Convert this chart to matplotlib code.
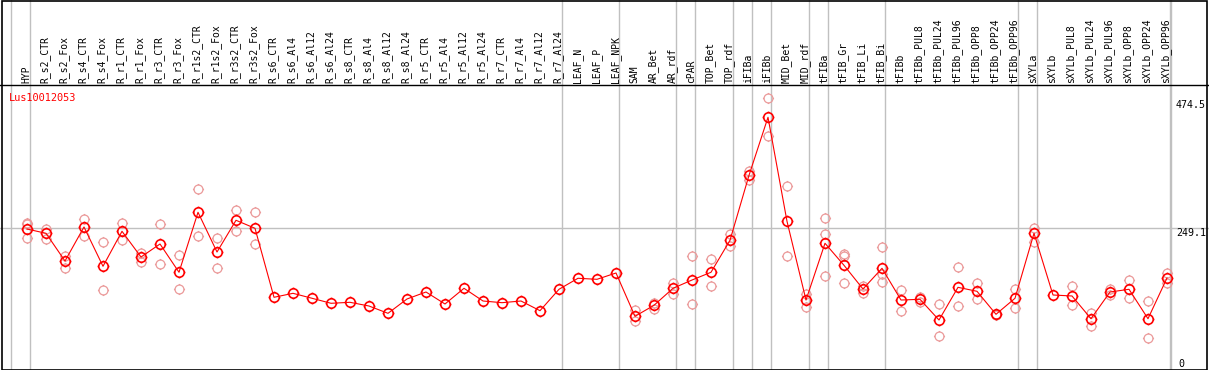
import numpy as np
import matplotlib
matplotlib.use("Agg")
import matplotlib.pyplot as plt
from matplotlib.path import Path
from matplotlib.patches import Rectangle

# Sample names (x categories)
samples = [
    "HYP", "R_s2_CTR", "R_s2_Fox", "R_s4_CTR", "R_s4_Fox", "R_r1_CTR", "R_r1_Fox",
    "R_r3_CTR", "R_r3_Fox", "R_r1s2_CTR", "R_r1s2_Fox", "R_r3s2_CTR", "R_r3s2_Fox",
    "R_s6_CTR", "R_s6_Al4", "R_s6_Al12", "R_s6_Al24", "R_s8_CTR", "R_s8_Al4",
    "R_s8_Al12", "R_s8_Al24", "R_r5_CTR", "R_r5_Al4", "R_r5_Al12", "R_r5_Al24",
    "R_r7_CTR", "R_r7_Al4", "R_r7_Al12", "R_r7_Al24", "LEAF_N", "LEAF_P", "LEAF_NPK",
    "SAM", "AR_Bet", "AR_rdf", "cPAR", "TOP_Bet", "TOP_rdf", "iFIBa", "iFIBb",
    "MID_Bet", "MID_rdf", "tFIBa", "tFIB_Gr", "tFIB_Li", "tFIB_Bi", "tFIBb",
    "tFIBb_PUL8", "tFIBb_PUL24", "tFIBb_PUL96", "tFIBb_OPP8", "tFIBb_OPP24",
    "tFIBb_OPP96", "sXYLa", "sXYLb", "sXYLb_PUL8", "sXYLb_PUL24", "sXYLb_PUL96",
    "sXYLb_OPP8", "sXYLb_OPP24", "sXYLb_OPP96",
]

# Mean expression per sample
means = [
    247.7, 239.8, 189.0, 251.4, 179.3, 243.5, 196.3, 220.2, 168.3, 278.4, 205.5,
    263.7, 249.0, 122.4, 129.7, 120.6, 111.4, 113.2, 106.4, 93.0, 119.3, 132.1,
    110.1, 138.9, 115.6, 112.5, 115.6, 97.8, 137.1, 157.3, 155.4, 167.0, 87.5,
    107.7, 138.9, 154.1, 168.3, 227.0, 346.2, 452.7, 261.8, 117.4, 221.5, 181.1,
    137.6, 175.6, 117.4, 118.7, 80.7, 140.7, 133.4, 91.2, 120.6, 239.8, 126.6,
    124.8, 83.1, 132.1, 137.1, 83.1, 157.8,
]

# Individual replicates per sample
replicates = [
    [259.3, 256.3, 230.6], [247.7, 228.8], [198.2, 176.7], [266.1, 234.9],
    [223.3, 135.2], [258.2, 227.0], [204.2, 187.7], [256.3, 182.9], [199.5, 137.1],
    [320.6, 234.3], [231.7, 175.6], [282.0, 243.5], [279.5, 219.6],
    [], [], [], [], [], [], [], [], [], [], [], [], [], [], [], [], [], [], [],
    [99.1, 78.3], [111.4, 101.5], [149.2, 129.0], [197.6, 110.1], [192.1, 142.6],
    [238.0, 217.1], [354.7, 337.6], [487.5, 417.8], [326.1, 198.2], [128.4, 105.1],
    [267.9, 238.0, 161.5], [201.8, 198.7, 148.1], [143.7, 129.7],
    [214.1, 164.6, 149.9], [135.2, 96.7], [122.9, 114.3], [110.1, 50.8],
    [177.4, 105.9], [148.6, 118.7], [91.2, 89.4], [137.1, 103.3], [250.1, 223.3],
    [], [142.6, 107.7], [93.0, 70.3], [137.1, 126.6], [153.6, 121.7], [115.0, 47.2],
    [166.4, 148.1],
]

# Group boundaries: separator drawn after these sample indices
group_ends = [-1, 0, 28, 31, 34, 35, 37, 38, 39, 41, 42, 45, 52, 53, 60]

gene = "Lus10012053"
y_ticks = [474.5, 249.1, 0]

W, H, DPI = 1209, 370, 100
PX_X0, PX_DX = 27.0, 19.0      # pixel x of first sample, spacing
PX_Y0, PX_DY = 364.0, 0.545    # pixel y of value 0, pixels per unit


def px_to_x(px):
    return (px - PX_X0) / PX_DX


def px_to_y(py):
    return (PX_Y0 - py) / PX_DY


# Circle marker with four small ticks
circle = Path.unit_circle()
tick_verts = [(0, 1), (0, 1.25), (0, -1), (0, -1.25),
              (1, 0), (1.25, 0), (-1, 0), (-1.25, 0)]
tick_codes = [Path.MOVETO, Path.LINETO] * 4
marker = Path.make_compound_path(circle, Path(tick_verts, tick_codes))

fig = plt.figure(figsize=(W / DPI, H / DPI), dpi=DPI)
ax = fig.add_axes([0, 0, 1, 1])
ax.set_xlim(px_to_x(0), px_to_x(W))
ax.set_ylim(px_to_y(H), px_to_y(0))
ax.axis("off")

grid_col = "#c0c0c0"
mono = "DejaVu Sans Mono"

# Separators and grid
for g in group_ends:
    ax.axvline(g + 3 / PX_DX, color=grid_col, lw=1.0, zorder=1)
ax.axvline(px_to_x(1170.5), color=grid_col, lw=1.0, zorder=1)
ax.axhline(249.1, color=grid_col, lw=1.0, zorder=1)
ax.axhline(px_to_y(85), color="black", lw=1.0, zorder=3)

x = np.arange(len(samples))

# Replicates
for i, reps in enumerate(replicates):
    if reps:
        ax.plot([i] * len(reps), reps, linestyle="none", marker=marker,
                markersize=8, markerfacecolor="none", markeredgecolor="#eb9a9a",
                markeredgewidth=0.9, zorder=2)

# Mean line
ax.plot(x, means, color="red", lw=0.8, zorder=4)
ax.plot(x, means, linestyle="none", marker=marker, markersize=8.5,
        markerfacecolor="none", markeredgecolor="red", markeredgewidth=1.2,
        zorder=5)

# Sample labels in the header
for i, s in enumerate(samples):
    ax.text(i - 0.05, px_to_y(83), s, rotation=90, ha="center", va="bottom",
            fontsize=7.0, family=mono, color="black", zorder=6)

ax.text(px_to_x(9), px_to_y(98), gene, ha="left", va="center",
        fontsize=7.4, family=mono, color="red", zorder=6)

# Right-hand value labels
ax.text(px_to_x(1206), y_ticks[0], "474.5", ha="right", va="center",
        fontsize=7.2, family=mono)
ax.text(px_to_x(1206), y_ticks[1], "249.1", ha="right", va="top",
        fontsize=7.2, family=mono)
ax.text(px_to_x(1181), y_ticks[2], "0", ha="center", va="center",
        fontsize=7.2, family=mono)

# Outer frame
fig.patches.append(Rectangle((1.5 / W, 0.5 / H), (W - 4) / W, (H - 1.5) / H,
                             transform=fig.transFigure, fill=False,
                             edgecolor="black", lw=1.2))

fig.savefig("out.png", dpi=DPI)
